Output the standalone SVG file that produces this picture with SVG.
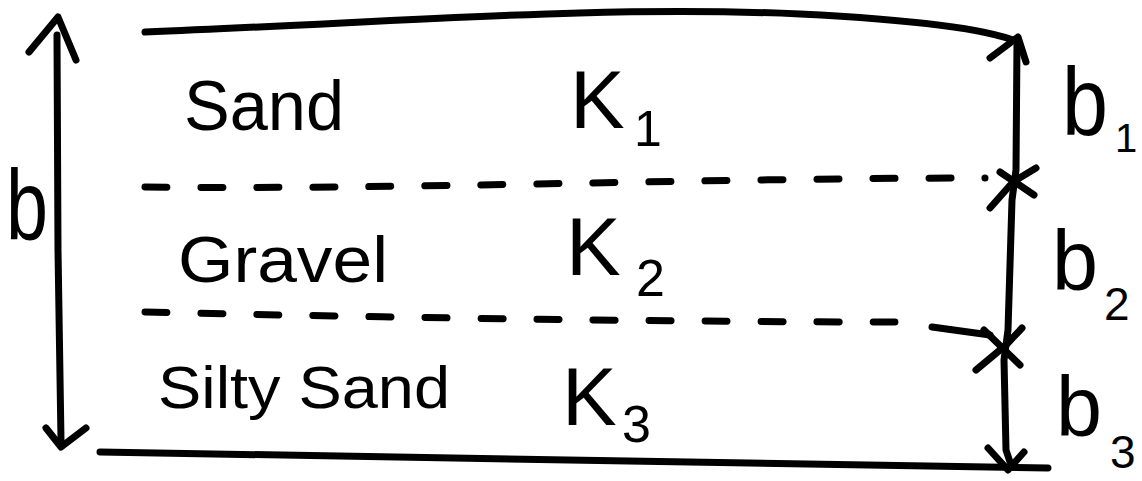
<svg xmlns="http://www.w3.org/2000/svg" width="1142" height="481" viewBox="0 0 1142 481">
<style>
.s{fill:none;stroke:#000;stroke-width:7;stroke-linecap:round;stroke-linejoin:round}
.d{fill:none;stroke:#000;stroke-width:7;stroke-linecap:round;stroke-dasharray:22 34}
.t{font-family:"Liberation Sans",Arial,sans-serif;fill:#000}
</style>
<rect width="1142" height="481" fill="#fff"/>
<g id="layers">
<path class="s" d="M145,32 C400,22 600,5 800,14 C920,20 990,30 1018,42"/>
<path class="s" d="M100,452 C400,455 700,462 1048,468"/>
<path class="d" d="M145,187 C400,190 700,178 985,178"/>
<path class="d" d="M145,312 C400,318 700,322 895,322"/>
<path class="s" d="M932,327 L990,335"/>
</g>
<g id="total-thickness">
<path class="s" d="M57,35 L58,250 L61,440"/>
<path class="s" d="M29,52 L58,17 L76,60"/>
<path class="s" d="M46,428 L61,447 L86,428"/>
<text class="t" x="6" y="240" font-size="100" textLength="42" lengthAdjust="spacingAndGlyphs">b</text>
</g>
<g id="thickness-markers">
<path class="s" d="M1017,42 L1016,170 L1012,200 L1008,330 L1004,360 L1006,450 L1010,462"/>
<path class="s" d="M990,58 L1018,37 L1026,62"/>
<path class="s" d="M1000,172 L1034,195 M1036,168 L1013,182 L990,208"/>
<path class="s" d="M984,330 L1020,365 M1022,328 L1006,345 L976,370"/>
<path class="s" d="M988,448 L1008,470 L1024,452"/>
</g>
<g id="sand">
<text class="t" x="184" y="130" font-size="70" textLength="160" lengthAdjust="spacingAndGlyphs">Sand</text>
<text class="t" x="570" y="128" font-size="82">K</text>
<text class="t" x="634" y="146" font-size="50">1</text>
<text class="t" x="1062" y="135" font-size="96" textLength="46" lengthAdjust="spacingAndGlyphs">b</text>
<text class="t" x="1115" y="152" font-size="40">1</text>
</g>
<g id="gravel">
<text class="t" x="178" y="282" font-size="64" textLength="210" lengthAdjust="spacingAndGlyphs">Gravel</text>
<text class="t" x="566" y="275" font-size="82">K</text>
<text class="t" x="636" y="296" font-size="52">2</text>
<text class="t" x="1052" y="290" font-size="86" textLength="46" lengthAdjust="spacingAndGlyphs">b</text>
<text class="t" x="1104" y="320" font-size="46">2</text>
</g>
<g id="silty-sand">
<text class="t" x="158" y="408" font-size="60" textLength="292" lengthAdjust="spacingAndGlyphs">Silty Sand</text>
<text class="t" x="562" y="425" font-size="82">K</text>
<text class="t" x="622" y="442" font-size="52">3</text>
<text class="t" x="1056" y="436" font-size="86" textLength="46" lengthAdjust="spacingAndGlyphs">b</text>
<text class="t" x="1110" y="468" font-size="46">3</text>
</g>
</svg>
